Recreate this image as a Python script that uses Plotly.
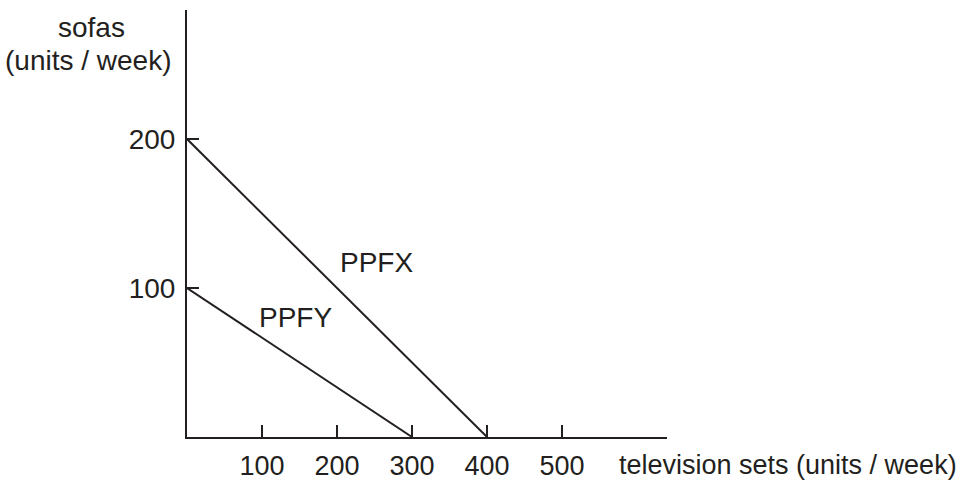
import plotly.graph_objects as go

# data
ppfx_tv = [0, 400]
ppfx_sofas = [200, 0]
ppfy_tv = [0, 300]
ppfy_sofas = [100, 0]
x_ticks = [100, 200, 300, 400, 500]
y_ticks = [100, 200]
labels = [("PPFX", 252, 117), ("PPFY", 144, 80)]

INK = "#231f20"
FONT = dict(family="Liberation Sans, Arial, Helvetica, sans-serif", size=28, color=INK)
XFONT = dict(family="Liberation Sans, Arial, Helvetica, sans-serif", size=27, color=INK)

fig = go.Figure()
fig.add_trace(go.Scatter(x=ppfx_tv, y=ppfx_sofas, mode="lines",
                         line=dict(color=INK, width=2), hoverinfo="skip"))
fig.add_trace(go.Scatter(x=ppfy_tv, y=ppfy_sofas, mode="lines",
                         line=dict(color=INK, width=2), hoverinfo="skip"))

for text, x, y in labels:
    fig.add_annotation(text=text, x=x, y=y, xref="x", yref="y",
                       showarrow=False, font=FONT)

W, H = 963, 483
L, R, T, B = 187, 296, 10, 46
pw, ph = W - L - R, H - T - B

def px(xp):
    return (xp - L) / pw

def py(yp):
    return (H - B - yp) / ph

fig.add_annotation(text="sofas", x=px(91), y=py(27), xref="paper", yref="paper",
                   showarrow=False, font=FONT, xanchor="center", yanchor="middle")
fig.add_annotation(text="(units / week)", x=px(88), y=py(60), xref="paper", yref="paper",
                   showarrow=False, font=FONT, xanchor="center", yanchor="middle")
fig.add_annotation(text="television sets (units / week)", x=px(959), y=py(465),
                   xref="paper", yref="paper", showarrow=False, font=XFONT,
                   xanchor="right", yanchor="middle")

fig.update_layout(
    width=W, height=H,
    margin=dict(l=L, r=R, t=T, b=B, pad=0, autoexpand=False),
    paper_bgcolor="white", plot_bgcolor="white",
    showlegend=False,
    font=FONT,
    xaxis=dict(range=[0, 640], tickvals=x_ticks, ticktext=[str(v) for v in x_ticks],
               ticks="inside", ticklen=12, tickwidth=2, tickcolor=INK,
               showline=True, linecolor=INK, linewidth=2, showgrid=False,
               zeroline=False, ticklabelstandoff=4, tickfont=XFONT, fixedrange=True,
               automargin=False),
    yaxis=dict(range=[0, 286.6], tickvals=y_ticks, ticktext=[str(v) for v in y_ticks],
               ticks="inside", ticklen=12, tickwidth=2, tickcolor=INK,
               showline=True, linecolor=INK, linewidth=2, showgrid=False,
               zeroline=False, ticklabelstandoff=4, tickfont=FONT, fixedrange=True,
               automargin=False),
)

fig.write_html(
    "out.html", config={"displayModeBar": False},
    post_script=(
        "var s=document.createElement('style');"
        "s.textContent='html,body{margin:0;padding:0;}';"
        "document.head.appendChild(s);"
    ),
)
